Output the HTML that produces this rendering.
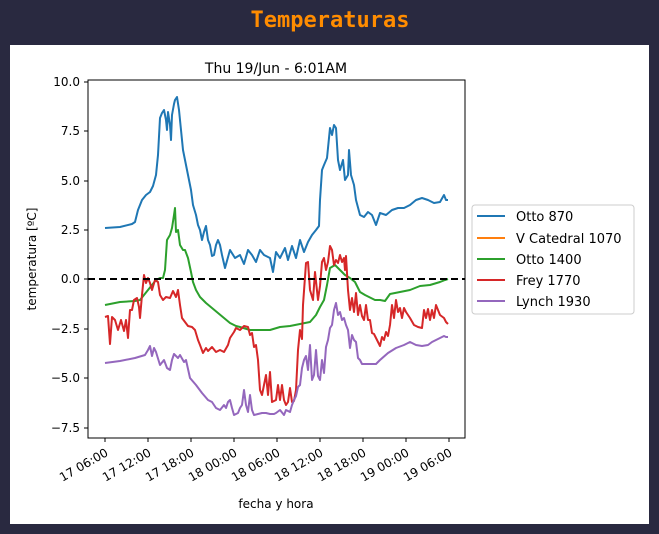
<!DOCTYPE html>
<html><head><meta charset="utf-8"><style>
html,body{margin:0;padding:0;background:#292940;width:659px;height:534px;overflow:hidden}
</style></head><body>
<svg width="659" height="534" xmlns="http://www.w3.org/2000/svg" font-family="DejaVu Sans, Liberation Sans, sans-serif">
<rect width="659" height="534" fill="#292940"/>
<text x="330" y="27" text-anchor="middle" font-family="DejaVu Sans Mono, Liberation Mono, monospace" font-weight="bold" font-size="22" fill="#ff8c00">Temperaturas</text>
<rect x="10" y="45" width="639" height="479" fill="#fff"/>
<text x="276" y="73" text-anchor="middle" font-size="14" fill="#000">Thu 19/Jun - 6:01AM</text>
<g fill="none" stroke-width="2" stroke-linejoin="round">
<polyline stroke="#1f77b4" points="105,228 120,227 132,224 135,222 138,210 142,200 146,195 150,192 153,186 156,175 158,155 160,118 162,113 164,110 166,120 167,130 168,112 170,125 171,140 172,115 174,104 175,100 177,97 179,110 181,130 183,150 186,165 188,175 191,190 193,205 196,215 198,225 200,230 202,240 204,232 206,226 208,240 210,245 212,256 214,255 216,245 218,240 220,245 222,255 225,268 230,250 235,258 240,255 244,264 248,250 252,255 256,262 260,250 264,255 270,258 273,272 276,252 280,258 285,248 288,260 292,246 296,258 300,240 304,252 308,242 312,235 316,230 319,226 320,200 322,170 324,165 327,158 330,128 332,135 334,125 336,128 338,160 340,170 343,160 345,180 348,175 349,150 351,175 354,185 356,200 360,215 364,217 368,212 372,215 376,225 380,213 386,215 392,210 398,208 404,208 410,205 416,200 422,198 428,200 434,203 440,202 444,195 446,200 448,200"/>
<polyline stroke="#2ca02c" points="105,305 120,302 135,301 140,300 148,290 156,280 160,278 163,278 165,270 167,240 170,235 172,228 174,215 175,208 176,232 178,230 180,245 183,250 185,250 188,258 191,272 193,282 196,290 200,297 206,303 212,308 218,313 224,318 230,323 236,326 240,327 250,330 260,330 270,330 280,327 290,326 300,324 310,322 316,315 320,307 324,300 327,285 330,268 335,265 340,270 345,275 350,278 355,282 360,292 365,295 375,300 380,300 385,301 390,294 400,292 410,290 420,286 430,285 440,282 445,280 448,279"/>
<polyline stroke="#d62728" points="105,317 108,316 110,344 112,317 115,320 118,330 121,320 124,331 126,320 128,338 130,310 132,310 134,300 137,298 139,307 140,318 142,295 144,275 146,283 148,278 150,283 152,290 155,280 158,282 160,295 163,300 166,297 170,298 173,291 176,297 178,290 180,305 182,318 185,322 188,326 192,327 195,330 198,340 200,345 203,353 206,348 208,351 212,347 216,352 220,350 224,352 228,345 230,338 234,332 236,328 240,330 244,326 248,327 250,335 252,333 254,347 256,345 258,360 260,390 262,395 264,385 266,375 268,395 270,372 272,402 276,400 278,385 280,400 282,385 284,400 286,405 288,402 290,388 292,402 294,401 296,390 298,350 300,330 302,339 303,305 306,263 308,262 310,290 313,300 315,272 318,300 320,286 322,262 324,258 326,270 328,262 330,246 332,250 334,265 336,260 338,263 340,255 342,262 344,258 345,270 346,256 348,290 350,310 352,298 354,312 356,293 358,315 360,305 362,316 364,320 366,305 368,320 370,320 372,333 374,334 377,340 380,346 382,337 384,340 386,332 388,336 390,325 392,305 394,318 396,300 398,312 400,308 402,318 404,308 406,312 410,318 414,325 418,327 422,328 424,310 426,318 428,309 430,320 432,310 434,318 436,305 440,315 444,318 446,322 448,324"/>
<polyline stroke="#9467bd" points="105,363 120,361 135,358 145,355 148,350 150,346 152,356 154,348 156,352 160,365 164,360 167,368 170,370 172,360 174,354 178,358 180,355 184,362 186,360 190,378 196,385 202,393 208,400 212,402 216,408 220,410 224,405 226,408 228,402 230,400 232,408 234,415 238,413 240,408 242,405 244,390 246,405 248,412 250,395 252,410 254,415 258,414 262,413 266,413 270,414 274,414 276,413 280,410 284,415 286,410 290,412 292,405 294,400 296,396 298,387 300,385 302,368 304,360 306,356 308,370 310,345 312,380 314,375 316,350 318,376 320,380 322,360 324,373 326,347 328,340 330,328 332,325 334,310 336,303 338,315 340,312 342,320 344,318 346,325 348,330 350,348 352,335 354,340 356,342 358,358 360,360 362,364 368,364 376,364 380,360 388,353 396,348 404,345 410,342 416,345 422,346 428,345 432,342 436,340 440,338 444,336 446,337 448,337"/>
</g>
<line x1="88" y1="279" x2="465" y2="279" stroke="#000" stroke-width="2" stroke-dasharray="7,4"/>
<rect x="88" y="80" width="377" height="358" fill="none" stroke="#000" stroke-width="1"/>
<g stroke="#000" stroke-width="1">
<line x1="84" y1="82" x2="88" y2="82"/><line x1="84" y1="131" x2="88" y2="131"/><line x1="84" y1="181" x2="88" y2="181"/><line x1="84" y1="230" x2="88" y2="230"/><line x1="84" y1="279" x2="88" y2="279"/><line x1="84" y1="329" x2="88" y2="329"/><line x1="84" y1="378" x2="88" y2="378"/><line x1="84" y1="428" x2="88" y2="428"/>
<line x1="105" y1="438" x2="105" y2="442"/><line x1="148" y1="438" x2="148" y2="442"/><line x1="191" y1="438" x2="191" y2="442"/><line x1="234" y1="438" x2="234" y2="442"/><line x1="277" y1="438" x2="277" y2="442"/><line x1="320" y1="438" x2="320" y2="442"/><line x1="363" y1="438" x2="363" y2="442"/><line x1="406" y1="438" x2="406" y2="442"/><line x1="449" y1="438" x2="449" y2="442"/>
</g>
<g font-size="12" fill="#000" text-anchor="end">
<text x="80" y="86">10.0</text><text x="80" y="135">7.5</text><text x="80" y="185">5.0</text><text x="80" y="234">2.5</text><text x="80" y="283">0.0</text><text x="80" y="333">−2.5</text><text x="80" y="382">−5.0</text><text x="80" y="432">−7.5</text>
</g>
<g font-size="12" fill="#000" text-anchor="end">
<text transform="translate(109,455) rotate(-30)">17 06:00</text>
<text transform="translate(152,455) rotate(-30)">17 12:00</text>
<text transform="translate(195,455) rotate(-30)">17 18:00</text>
<text transform="translate(238,455) rotate(-30)">18 00:00</text>
<text transform="translate(281,455) rotate(-30)">18 06:00</text>
<text transform="translate(324,455) rotate(-30)">18 12:00</text>
<text transform="translate(367,455) rotate(-30)">18 18:00</text>
<text transform="translate(410,455) rotate(-30)">19 00:00</text>
<text transform="translate(453,455) rotate(-30)">19 06:00</text>
</g>
<text x="276" y="508" text-anchor="middle" font-size="12" fill="#000">fecha y hora</text>
<text transform="translate(36,259) rotate(-90)" text-anchor="middle" font-size="12" fill="#000">temperatura [ºC]</text>
<rect x="472" y="205" width="162" height="109" rx="3" fill="#fff" stroke="#ccc"/>
<g stroke-width="2">
<line x1="477" y1="216" x2="505" y2="216" stroke="#1f77b4"/>
<line x1="477" y1="238" x2="505" y2="238" stroke="#ff7f0e"/>
<line x1="477" y1="259" x2="505" y2="259" stroke="#2ca02c"/>
<line x1="477" y1="280" x2="505" y2="280" stroke="#d62728"/>
<line x1="477" y1="301" x2="505" y2="301" stroke="#9467bd"/>
</g>
<g font-size="13" fill="#000">
<text x="516" y="221">Otto 870</text>
<text x="516" y="243">V Catedral 1070</text>
<text x="516" y="264">Otto 1400</text>
<text x="516" y="285">Frey 1770</text>
<text x="516" y="306">Lynch 1930</text>
</g>
</svg>
</body></html>
